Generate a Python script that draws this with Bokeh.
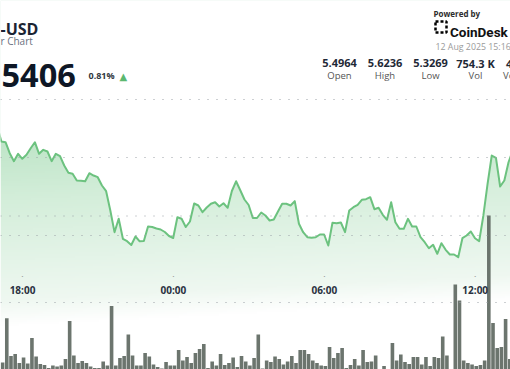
from datetime import datetime, timedelta
import numpy as np
from bokeh.plotting import figure
from bokeh.models import Range1d, Span, Label, LabelSet, ColumnDataSource, BoxAnnotation
from bokeh.embed import file_html
from bokeh.resources import INLINE
from bokeh.core.properties import value

# ---------------- data ----------------
pair_title = "-USD"
chart_subtitle = "r Chart"
last_price_text = "5406"
change_text = "0.81%"
powered_text = "Powered by"
brand_text = "CoinDesk"
timestamp_text = "12 Aug 2025 15:16"
stat_values = ["5.4964", "5.6236", "5.3269", "754.3 K", "4.16 M"]
stat_names = ["Open", "High", "Low", "Vol", "Vol (USD)"]

tick_labels = ["18:00", "00:00", "06:00", "12:00"]
tick_times = [datetime(2025, 8, 11, 18), datetime(2025, 8, 12, 0),
              datetime(2025, 8, 12, 6), datetime(2025, 8, 12, 12)]

grid_prices = [5.60, 5.45, 5.40]

# price every 10 minutes, first point 16:59:30
price_start = datetime(2025, 8, 11, 16, 59, 30)
price = [5.6821, 5.6410, 5.6392, 5.6110, 5.5905, 5.6095, 5.5967, 5.6069, 5.6238, 5.6392,
         5.6095, 5.6197, 5.6154, 5.5905, 5.6095, 5.6033, 5.5795, 5.5608, 5.5582, 5.5410,
         5.5403, 5.5392, 5.5597, 5.5538, 5.5495, 5.5282, 5.5136, 5.4641, 5.4085, 5.4428,
         5.3915, 5.3854, 5.3756, 5.3974, 5.3851, 5.3859, 5.4231, 5.4218, 5.4180, 5.4154,
         5.4090, 5.3987, 5.3936, 5.4469, 5.4428, 5.4218, 5.4359, 5.4821, 5.4769, 5.4598,
         5.4718, 5.4813, 5.4854, 5.4744, 5.4828, 5.4710, 5.5141, 5.5390, 5.5161, 5.4923,
         5.4782, 5.4449, 5.4449, 5.4590, 5.4513, 5.4385, 5.4410, 5.4615, 5.4813, 5.4813,
         5.4769, 5.4880, 5.4300, 5.4085, 5.3956, 5.3941, 5.3956, 5.4026, 5.4026, 5.3744,
         5.4326, 5.4315, 5.4333, 5.4085, 5.4641, 5.4726, 5.4787, 5.4916, 5.4931, 5.4982,
         5.4675, 5.4710, 5.4531, 5.4403, 5.4854, 5.4341, 5.4172, 5.4172, 5.4428, 5.4231,
         5.4231, 5.3956, 5.3828, 5.3674, 5.3762, 5.3531, 5.3803, 5.3633, 5.3513, 5.3513,
         5.3444, 5.3931, 5.4000, 5.4103, 5.3931, 5.3854, 5.4513, 5.5326, 5.6051, 5.5992,
         5.5256, 5.5410, 5.5879, 5.6179]

# volume (K) every 10 minutes, first bar 17:12:30
volume_start = datetime(2025, 8, 11, 17, 12, 30)
volume_k = [3.5, 25.6, 6.7, 7.7, 3.2, 6.0, 3.0, 15.8, 6.5, 2.7,
            2.3, 0.8, 2.0, 1.5, 2.0, 5.3, 24.2, 7.0, 3.2, 4.2,
            3.3, 1.5, 0.7, 0.8, 4.0, 2.0, 31.7, 2.0, 5.8, 6.7,
            17.5, 7.0, 2.0, 2.0, 8.3, 6.5, 2.5, 1.2, 0.5, 3.7,
            2.0, 2.0, 9.8, 4.5, 6.2, 3.2, 8.2, 10.3, 12.8, 0.8,
            4.0, 2.0, 7.8, 2.3, 3.2, 6.0, 1.2, 6.8, 4.0, 2.0,
            5.7, 17.5, 0.5, 4.5, 3.7, 6.5, 5.3, 2.5, 4.0, 6.8,
            3.2, 9.8, 9.8, 7.8, 4.5, 3.2, 2.0, 1.7, 11.2, 5.7,
            8.2, 10.7, 0.8, 2.3, 5.3, 2.0, 9.8, 3.7, 4.0, 7.0,
            0.3, 1.7, 0.2, 13.2, 4.5, 7.5, 3.7, 2.8, 6.2, 6.2,
            2.5, 6.2, 1.7, 6.2, 5.8, 16.5, 7.0, 0.3, 42.5, 34.5,
            4.5, 3.2, 2.5, 1.7, 2.3, 4.5, 77.0, 23.2, 10.7, 11.2,
            25.3, 5.3]

# ---------------- layout / style constants ----------------
W, H = 510, 369
PX_PER_HOUR = 25.15
X0 = datetime(2025, 8, 11, 17, 7, 30)
X1 = X0 + timedelta(hours=W / PX_PER_HOUR)
PX_PER_PRICE = 390.0            # 78 px per 0.20
TOP_PRICE = 5.60 + 157 / PX_PER_PRICE
Y_LO = TOP_PRICE - H / PX_PER_PRICE
VOL_TOP = H * 0.5

GREEN = "#6cc27f"
BAR = "#5c665e"
DOT = "#9ba1a6"


def ms(d):
    return (d - datetime(1970, 1, 1)).total_seconds() * 1000.0


line_x = [ms(price_start + timedelta(minutes=10 * i)) for i in range(len(price))]
bar_x = [ms(volume_start + timedelta(minutes=10 * i)) for i in range(len(volume_k))]

p = figure(width=W, height=H, x_axis_type="datetime",
           x_range=Range1d(ms(X0), ms(X1)), y_range=Range1d(Y_LO, TOP_PRICE),
           output_backend="svg", toolbar_location=None, min_border=0,
           outline_line_color=None, background_fill_color="white",
           border_fill_color="white")
p.extra_y_ranges = {"vol": Range1d(0, VOL_TOP)}
p.axis.visible = False
p.grid.visible = False

# gradient fill under the price line (image masked above the line)
gh, gw = 185, 255
rows = (np.arange(gh) + 0.5) / gh
cols = (np.arange(gw) + 0.5) / gw
py = H - rows[:, None] * H
pxx = cols[None, :] * W
s = py + 0.05 * pxx
stops = [125, 200, 260, 300, 325]
rs = [186, 212, 228, 239, 255]
gs = [227, 238, 244, 248, 255]
bs = [196, 218, 232, 241, 255]
img = np.zeros((gh, gw), dtype=np.uint32)
view = img.view(dtype=np.uint8).reshape((gh, gw, 4))
view[:, :, 0] = np.interp(s, stops, rs)
view[:, :, 1] = np.interp(s, stops, gs)
view[:, :, 2] = np.interp(s, stops, bs)
view[:, :, 3] = 255
p.image_rgba(image=[img], x=ms(X0), y=Y_LO, dw=ms(X1) - ms(X0), dh=TOP_PRICE - Y_LO)
p.varea(x=line_x, y1=price, y2=[TOP_PRICE + 1] * len(price), fill_color="white")

# volume bars
p.vbar(x=bar_x, top=volume_k, bottom=0, width=8.6 * 60 * 1000, y_range_name="vol",
       fill_color=BAR, fill_alpha=0.9, line_color=None)

# price line
p.line(line_x, price, line_color=GREEN, line_width=2, line_join="round")

# dotted guide lines
for g in grid_prices:
    p.add_layout(Span(location=g, dimension="width", line_color=DOT, line_width=1,
                      line_dash="1 8"))
for loc in [H - 99, H - 302]:
    p.add_layout(Span(location=loc, location_units="screen", dimension="width",
                      line_color=DOT, line_width=1, line_dash="1 8"))

# time labels
tsrc = ColumnDataSource(dict(x=[ms(t) for t in tick_times], t=tick_labels,
                             d=["\u2022"] * len(tick_labels)))
p.add_layout(LabelSet(x="x", y=H - 293, y_units="screen", text="t", source=tsrc,
                      text_align="center", text_baseline="alphabetic",
                      text_font=value("Open Sans"), text_font_style="bold",
                      text_font_size="10px", text_color="#2a3140"))
p.add_layout(LabelSet(x="x", y=H - 277, y_units="screen", text="d", source=tsrc,
                      text_align="center", text_baseline="alphabetic",
                      text_font=value("DejaVu Sans"), text_font_size="4px",
                      text_color="#a0a0a0"))


def lab(text, x, y, size, color, bold=False, align="left", font="Open Sans"):
    p.add_layout(Label(x=x, y=H - y, x_units="screen", y_units="screen", text=text,
                       text_font=font, text_font_size=size, text_color=color,
                       text_font_style="bold" if bold else "normal",
                       text_align=align, text_baseline="alphabetic"))


lab(pair_title, 0, 28.5, "16px", "#1b2433", bold=True)
lab(chart_subtitle, 0, 40.5, "10px", "#6b7280")
lab(last_price_text, 1, 75, "32.5px", "#0e1726", bold=True)
lab(change_text, 88, 75, "9px", "#30363d", bold=True)
lab("\u25b2", 119, 76, "10px", "#5cb870", font="DejaVu Sans")
lab(powered_text, 433, 13, "8px", "#2d2d2d", bold=True)
# logo mark: dashed square
p.add_layout(BoxAnnotation(left=435, right=446, bottom=H - 32, top=H - 21,
                           left_units="screen", right_units="screen",
                           top_units="screen", bottom_units="screen",
                           fill_alpha=0, line_color="#000000", line_alpha=1.0,
                           line_width=2.5, line_dash="3 2"))
lab(brand_text, 449.5, 31, "13.5px", "#111111", bold=True, font="Roboto")
lab(timestamp_text, 435, 46.5, "8.8px", "#9a9a9a")
cols_x = [339, 384.5, 430, 475, 523]
for cx, v, n in zip(cols_x, stat_values, stat_names):
    lab(v, cx, 62.5, "11px", "#1f2937", bold=True, align="center")
    lab(n, cx, 74.5, "9.5px", "#555555", align="center")

html = file_html(p, INLINE)
html = html.replace("<head>", "<head><style>html,body{margin:0;padding:0;overflow:hidden;}</style>", 1)
open("out.html", "w").write(html)
